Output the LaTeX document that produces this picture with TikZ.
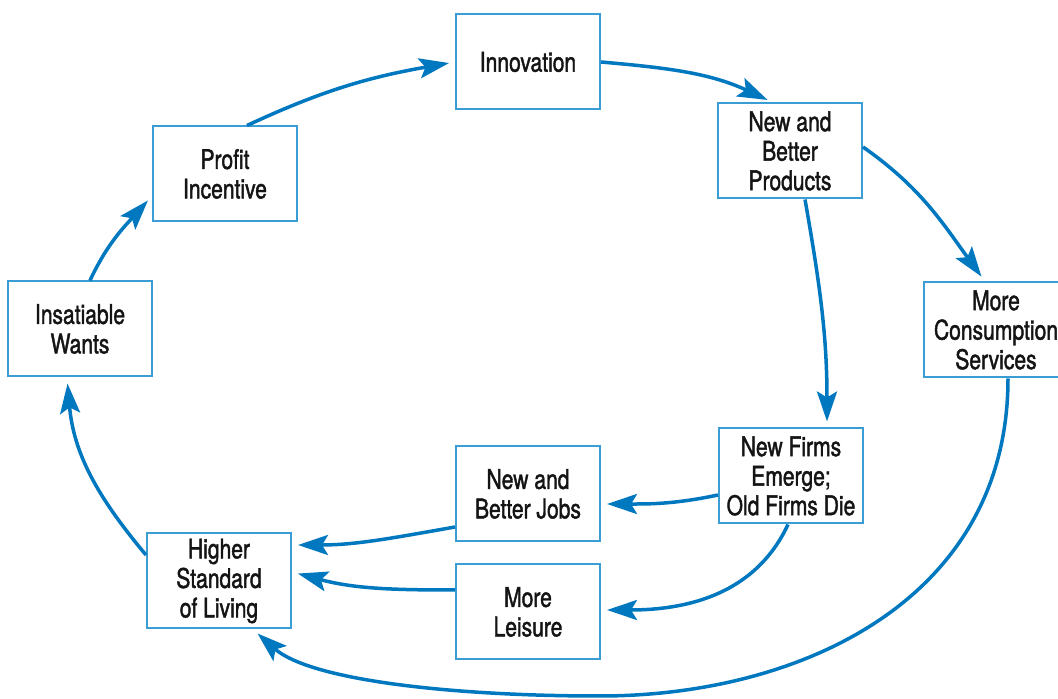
\documentclass[tikz,border=0pt]{standalone}
\usepackage{fontspec}
\setmainfont[FakeStretch=0.78,FakeBold=1.5]{TeX Gyre Heros}
\usetikzlibrary{arrows.meta}
\definecolor{boxc}{RGB}{58,157,212}
\definecolor{arrc}{RGB}{0,120,192}
\definecolor{txtc}{RGB}{20,20,20}
\begin{document}
\begin{tikzpicture}[x=1pt,y=1pt,
  box/.style={draw=boxc, line width=2pt, minimum width=144pt, minimum height=95pt,
    inner sep=0pt, align=center, text=txtc, font=\fontsize{27}{29.5}\selectfont},
  arr/.style={draw=arrc, line width=3.5pt,
    -{Stealth[length=30pt,width=20pt,inset=6pt]}, shorten >=6pt}]
\useasboundingbox (0,0) rectangle (1058,699);
\fill[white] (0,0) rectangle (1058,699);
\node[box] (inno)   at (528,637) {Innovation};
\node[box] (prod)   at (790,548) {New and\\Better\\Products};
\node[box] (cons)   at (996,369) {More\\Consumption\\Services};
\node[box] (firms)  at (791,223) {New Firms\\Emerge;\\Old Firms Die};
\node[box] (jobs)   at (528,205) {New and\\Better Jobs};
\node[box] (leis)   at (528,87)  {More\\Leisure};
\node[box] (hsl)    at (219,118) {Higher\\Standard\\of Living};
\node[box] (insat)  at (80,370)  {Insatiable\\Wants};
\node[box] (profit) at (225,525) {Profit\\Incentive};
\coordinate (low) at (600,3);
% connectors
\draw[arr] ([xshift=10pt]insat.north) to[out=65,in=228] ([yshift=-22pt]profit.west);
\draw[arr] ([xshift=22pt]profit.north) to[out=25,in=190] (inno.west);
\draw[arr] (inno.east) to[out=-5,in=155] ([xshift=-17pt]prod.north);
\draw[arr] ([yshift=4pt]prod.east) to[out=-35,in=126] ([xshift=-11pt]cons.north);
\draw[arr] ([xshift=15pt]prod.south) to[out=-80,in=90] ([xshift=36pt]firms.north);
\draw[arr] ([yshift=-19pt]firms.west) to[out=192,in=0] ([yshift=-10pt]jobs.east);
\draw[arr] ([xshift=-3pt]firms.south) to[out=-115,in=0] ([yshift=2pt]leis.east);
\draw[arr] ([yshift=-33pt]jobs.west) to[out=190,in=0] ([yshift=36pt]hsl.east);
\draw[arr] ([yshift=22pt]leis.west) to[out=180,in=-15] ([yshift=9pt]hsl.east);
\draw[arr] ([xshift=12pt]cons.south) .. controls (1008,99) and (800,3) .. (low)
   .. controls (450,3) and (310,19) .. ([xshift=34pt]hsl.south);
\draw[arr] ([yshift=26pt]hsl.west) to[out=130,in=-85] ([xshift=-13pt]insat.south);
\end{tikzpicture}
\end{document}
